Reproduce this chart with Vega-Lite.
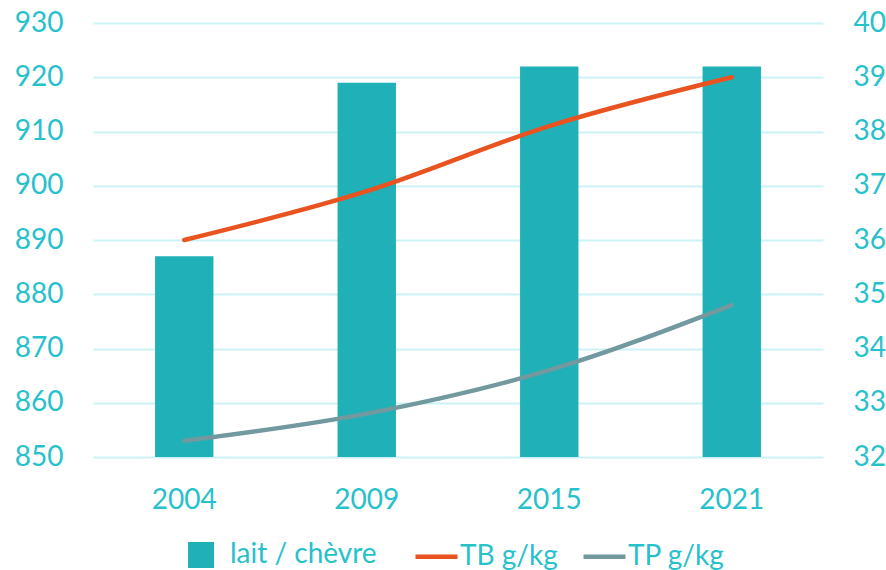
{
  "$schema": "https://vega.github.io/schema/vega-lite/v6.json",
  "width": 730,
  "height": 434,
  "autosize": "none",
  "padding": {"left": 93, "top": 23, "right": 63, "bottom": 113},
  "background": "white",
  "config": {
    "view": {"stroke": null},
    "font": "Lato",
    "axis": {
      "labelFont": "Lato",
      "labelFontSize": 28,
      "labelColor": "#27C1CC",
      "domain": false,
      "ticks": false,
      "title": null
    },
    "legend": {
      "labelFont": "Lato",
      "labelFontSize": 28,
      "labelColor": "#27C1CC",
      "title": null
    }
  },
  "datasets": {
    "lait": [
      {"annee": "2004", "serie": "lait / chèvre", "valeur": 887},
      {"annee": "2009", "serie": "lait / chèvre", "valeur": 919},
      {"annee": "2015", "serie": "lait / chèvre", "valeur": 922},
      {"annee": "2021", "serie": "lait / chèvre", "valeur": 922}
    ],
    "taux": [
      {"annee": "2004", "serie": "TB g/kg", "valeur": 36.0},
      {"annee": "2009", "serie": "TB g/kg", "valeur": 36.9},
      {"annee": "2015", "serie": "TB g/kg", "valeur": 38.1},
      {"annee": "2021", "serie": "TB g/kg", "valeur": 39.0},
      {"annee": "2004", "serie": "TP g/kg", "valeur": 32.3},
      {"annee": "2009", "serie": "TP g/kg", "valeur": 32.8},
      {"annee": "2015", "serie": "TP g/kg", "valeur": 33.6},
      {"annee": "2021", "serie": "TP g/kg", "valeur": 34.8}
    ]
  },
  "encoding": {
    "x": {
      "field": "annee",
      "type": "ordinal",
      "scale": {"type": "band", "paddingInner": 0.68, "paddingOuter": 0.34},
      "axis": {"labelAngle": 0, "labelPadding": 29, "grid": false}
    }
  },
  "layer": [
    {
      "data": {"name": "lait"},
      "mark": {"type": "bar"},
      "encoding": {
        "y": {
          "field": "valeur",
          "type": "quantitative",
          "scale": {"domain": [850, 930], "zero": false, "nice": false},
          "axis": {
            "orient": "left",
            "values": [850, 860, 870, 880, 890, 900, 910, 920, 930],
            "grid": true,
            "gridColor": "#CCF2F5",
            "gridWidth": 2,
            "labelPadding": 30
          }
        },
        "y2": {"datum": 850},
        "fill": {
          "field": "serie",
          "type": "nominal",
          "scale": {"domain": ["lait / chèvre"], "range": ["#20B1B8"]},
          "legend": {
            "orient": "none",
            "legendX": 94,
            "legendY": 518,
            "symbolType": "square",
            "symbolSize": 676,
            "symbolStrokeWidth": 0,
            "labelOffset": 15
          }
        }
      }
    },
    {
      "data": {"name": "taux"},
      "mark": {"type": "line", "interpolate": "monotone", "strokeWidth": 4.5, "strokeCap": "round"},
      "encoding": {
        "x": {"field": "annee", "type": "ordinal", "bandPosition": 0.5},
        "y": {
          "field": "valeur",
          "type": "quantitative",
          "scale": {"domain": [32, 40], "zero": false, "nice": false},
          "axis": {
            "orient": "right",
            "values": [32, 33, 34, 35, 36, 37, 38, 39, 40],
            "grid": false,
            "labelPadding": 30
          }
        },
        "stroke": {
          "field": "serie",
          "type": "nominal",
          "scale": {"domain": ["TB g/kg", "TP g/kg"], "range": ["#E8531F", "#7298A0"]},
          "legend": {
            "orient": "none",
            "direction": "horizontal",
            "legendX": 320,
            "legendY": 510,
            "symbolType": "stroke",
            "symbolSize": 1764,
            "symbolStrokeWidth": 4.5,
            "labelOffset": 0,
            "columnPadding": 16
          }
        }
      }
    }
  ],
  "resolve": {"scale": {"y": "independent"}}
}
